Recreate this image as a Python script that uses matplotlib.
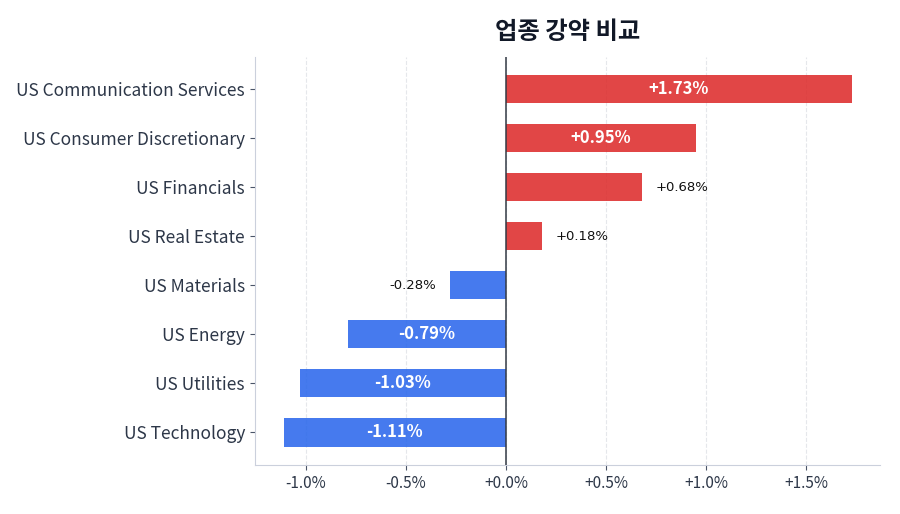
import matplotlib
matplotlib.use("Agg")
import matplotlib.pyplot as plt

sectors = ["US Technology", "US Utilities", "US Energy", "US Materials",
           "US Real Estate", "US Financials", "US Consumer Discretionary",
           "US Communication Services"]
changes = [-1.11, -1.03, -0.79, -0.28, 0.18, 0.68, 0.95, 1.73]

plt.rcParams['font.family'] = ['Noto Sans CJK KR', 'DejaVu Sans']

fig, ax = plt.subplots(figsize=(9, 5.14), dpi=100)
fig.subplots_adjust(left=0.283, right=0.978, top=0.889, bottom=0.095)

colors = ['#dc2626' if v >= 0 else '#2563eb' for v in changes]
ypos = list(range(len(sectors)))
ax.barh(ypos, changes, height=0.58, color=colors, alpha=0.85, zorder=2)

for y, v in zip(ypos, changes):
    txt = "%+.2f%%" % v
    if abs(v) >= 0.75:
        ax.text(v / 2, y, txt, ha='center', va='center', color='white',
                fontsize=12, fontweight='bold', zorder=3)
    elif v >= 0:
        ax.text(v + 0.07, y, txt, ha='left', va='center', color='#111111',
                fontsize=9.5, family='DejaVu Sans', zorder=3)
    else:
        ax.text(v - 0.07, y, txt, ha='right', va='center', color='#111111',
                fontsize=9.5, family='DejaVu Sans', zorder=3)

ax.axvline(0, color='#333a45', linewidth=1.1, zorder=3)
ax.set_yticks(ypos)
ax.set_yticklabels(sectors, fontsize=12.5, color='#2d3748')
ax.set_xlim(-1.255, 1.87)
ax.set_ylim(-0.67, 7.65)
xt = [-1.0, -0.5, 0.0, 0.5, 1.0, 1.5]
ax.set_xticks(xt)
ax.set_xticklabels(["%+.1f%%" % t for t in xt], fontsize=11, color='#2d3748')
ax.grid(axis='x', linestyle='--', color='#e5e7eb', linewidth=0.8, zorder=0)
for s in ['top', 'right']:
    ax.spines[s].set_visible(False)
for s in ['left', 'bottom']:
    ax.spines[s].set_color('#cbd0dc')
ax.tick_params(axis='both', colors='#4a5568', labelcolor='#2d3748')
ax.set_title("업종 강약 비교", fontsize=17.5, fontweight='bold', color='#111827', pad=13)

fig.savefig("out.png", dpi=100)
